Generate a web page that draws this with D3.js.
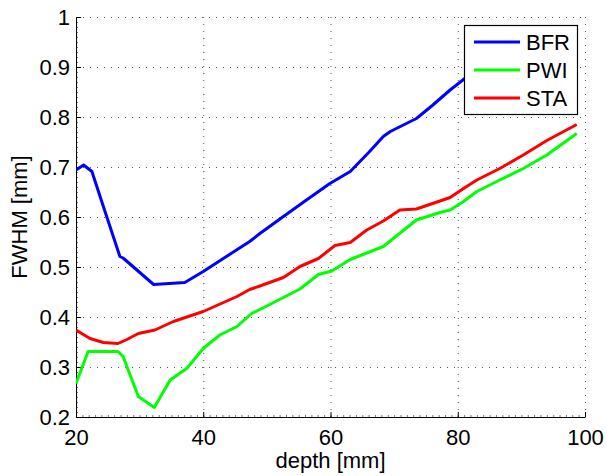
<!DOCTYPE html>
<html>
<head>
<meta charset="utf-8">
<script src="https://cdnjs.cloudflare.com/ajax/libs/d3/7.8.5/d3.min.js"></script>
<style>
  body { margin: 0; background: #fff; }
  text { font-family: "Liberation Sans", Arial, sans-serif; }
</style>
</head>
<body>
<div id="chart"></div>
<script>
// values
var bfrDepth = [20, 21.2, 22.5, 24.3, 26.9, 27.4, 32.2, 37.1, 40, 44, 47.3, 48.9, 52.6, 56, 59.9, 63.1, 66, 68.3, 69.4, 73.5, 76, 78.8, 80.9, 84, 88, 92, 96, 98.7];
var bfrFwhm  = [0.694, 0.704, 0.691, 0.621, 0.521, 0.518, 0.465, 0.469, 0.491, 0.524, 0.551, 0.567, 0.601, 0.632, 0.667, 0.691, 0.729, 0.761, 0.771, 0.797, 0.823, 0.854, 0.875, 0.905, 0.92, 0.90, 0.87, 0.847];

var pwiDepth = [20, 21.9, 24.3, 26.6, 27.4, 29.8, 32.3, 34.8, 37.4, 40, 42.6, 45.3, 47.6, 50, 55.2, 58.1, 60.2, 63.1, 68.3, 73.5, 77.2, 78.8, 80.9, 83, 86.6, 90.3, 94, 98.7];
var pwiFwhm  = [0.267, 0.331, 0.331, 0.331, 0.321, 0.241, 0.219, 0.274, 0.297, 0.337, 0.364, 0.381, 0.407, 0.422, 0.456, 0.485, 0.492, 0.515, 0.541, 0.594, 0.609, 0.614, 0.631, 0.651, 0.674, 0.697, 0.724, 0.767];

var staDepth = [20, 22.2, 24.3, 26.6, 28, 29.8, 32.4, 35.3, 40, 45.3, 47.3, 48.9, 52.6, 55.2, 58.1, 60.7, 63.1, 65.7, 68.3, 70.9, 73.5, 77.2, 78.8, 80.9, 83, 86.6, 90.3, 94, 98.7];
var staFwhm  = [0.374, 0.357, 0.349, 0.347, 0.355, 0.367, 0.374, 0.391, 0.411, 0.441, 0.455, 0.462, 0.479, 0.501, 0.517, 0.543, 0.549, 0.574, 0.592, 0.614, 0.616, 0.632, 0.639, 0.657, 0.674, 0.697, 0.724, 0.753, 0.785];

var seriesNames = ["BFR", "PWI", "STA"];
var xTicks = [20, 40, 60, 80, 100];
var yTicks = [0.2, 0.3, 0.4, 0.5, 0.6, 0.7, 0.8, 0.9, 1];

var colors = {"BFR": "#0000ff", "PWI": "#00ff00", "STA": "#ff0000"};

var series = [
  {name: "BFR", x: bfrDepth, y: bfrFwhm},
  {name: "PWI", x: pwiDepth, y: pwiFwhm},
  {name: "STA", x: staDepth, y: staFwhm}
];

var fontSize = "22px";

var margin = {top: 17, right: 22, bottom: 59, left: 76},
    W = 607, H = 476,
    width = W - margin.left - margin.right,
    height = H - margin.top - margin.bottom;

var svg = d3.select("#chart")
  .append("svg")
    .attr("width", W)
    .attr("height", H)
  .append("g")
    .attr("transform", "translate(" + margin.left + "," + margin.top + ")");

var x = d3.scaleLinear().domain([20, 100]).range([0, width]);
var y = d3.scaleLinear().domain([0.2, 1]).range([height, 0]);

// dotted grid
svg.append("g")
  .selectAll("line")
  .data(xTicks.slice(1))
  .enter().append("line")
    .attr("x1", function(d) { return x(d) + 0.5; })
    .attr("x2", function(d) { return x(d) + 0.5; })
    .attr("y1", 0).attr("y2", height)
    .attr("stroke", "#555").attr("stroke-width", 1)
    .attr("stroke-dasharray", "1,6");
svg.append("g")
  .selectAll("line")
  .data(yTicks.slice(1))
  .enter().append("line")
    .attr("y1", function(d) { return Math.round(y(d)) + 0.5; })
    .attr("y2", function(d) { return Math.round(y(d)) + 0.5; })
    .attr("x1", 0).attr("x2", width)
    .attr("stroke", "#555").attr("stroke-width", 1)
    .attr("stroke-dasharray", "1,6");

// minor ticks
svg.append("g")
  .attr("transform", "translate(0," + height + ")")
  .call(d3.axisBottom(x).ticks(80).tickSize(-2).tickFormat(""))
  .call(function(g) { g.select(".domain").remove(); g.selectAll("line").attr("stroke", "#777"); });
svg.append("g")
  .call(d3.axisLeft(y).ticks(80).tickSize(-2).tickFormat(""))
  .call(function(g) { g.select(".domain").remove(); g.selectAll("line").attr("stroke", "#777"); });

// major axes, ticks pointing inward
var xAxis = svg.append("g")
  .attr("transform", "translate(0," + height + ")")
  .call(d3.axisBottom(x).tickValues(xTicks).tickSize(-5).tickPadding(12).tickSizeOuter(0));
var yAxis = svg.append("g")
  .call(d3.axisLeft(y).tickValues(yTicks).tickSize(-5).tickPadding(6).tickSizeOuter(0)
    .tickFormat(function(d) { return d === 1 ? "1" : d3.format(".1f")(d); }));

[xAxis, yAxis].forEach(function(g) {
  g.select(".domain").attr("stroke", "#000").attr("stroke-width", 1);
  g.selectAll(".tick line").attr("stroke", "#000");
  g.selectAll("text")
    .style("font-family", "'Liberation Sans', Arial, sans-serif")
    .style("font-size", fontSize)
    .attr("fill", "#000");
});

// lines
var line = d3.line()
  .x(function(d) { return x(d[0]); })
  .y(function(d) { return y(d[1]); });

svg.append("clipPath").attr("id", "clip")
  .append("rect").attr("x", 0).attr("y", 0).attr("width", width).attr("height", height);

series.forEach(function(s) {
  var pts = s.x.map(function(d, i) { return [d, s.y[i]]; });
  svg.append("path")
    .datum(pts)
    .attr("clip-path", "url(#clip)")
    .attr("fill", "none")
    .attr("stroke", colors[s.name])
    .attr("stroke-width", 3)
    .attr("stroke-linejoin", "round")
    .attr("d", line);
});

// axis labels
svg.append("text")
  .attr("x", width / 2)
  .attr("y", height + 51)
  .attr("text-anchor", "middle")
  .style("font-size", fontSize)
  .text("depth [mm]");
svg.append("text")
  .attr("transform", "translate(" + (-49) + "," + (height / 2) + ")rotate(-90)")
  .attr("text-anchor", "middle")
  .style("font-size", fontSize)
  .text("FWHM [mm]");

// legend
var lg = svg.append("g")
  .attr("transform", "translate(" + (464 - margin.left) + "," + (25 - margin.top) + ")");
lg.append("rect")
  .attr("x", 0.5).attr("y", 0.5)
  .attr("width", 113).attr("height", 89)
  .attr("fill", "#fff")
  .attr("stroke", "#000")
  .attr("stroke-width", 1.2);
seriesNames.forEach(function(name, i) {
  var cy = 17 + i * 28;
  lg.append("line")
    .attr("x1", 10).attr("x2", 56)
    .attr("y1", cy).attr("y2", cy)
    .attr("stroke", colors[name])
    .attr("stroke-width", 3);
  lg.append("text")
    .attr("x", 62)
    .attr("y", cy + 8)
    .style("font-size", fontSize)
    .text(name);
});
</script>
</body>
</html>
